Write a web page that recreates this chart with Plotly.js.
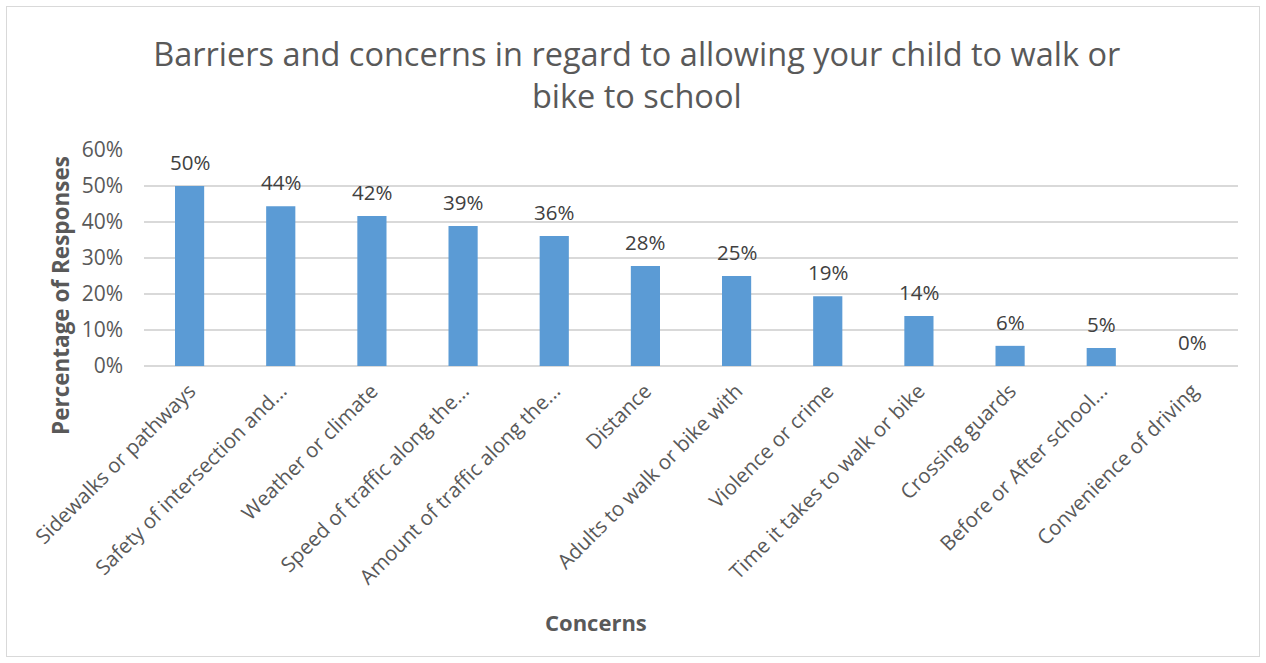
<!DOCTYPE html>
<html>
<head>
<meta charset="utf-8">
<script src="https://cdn.plot.ly/plotly-3.0.1.min.js"></script>
<style>
  html, body { margin: 0; padding: 0; background: #ffffff; }
  #wrap { position: relative; width: 1266px; height: 663px; }
  #frame { position: absolute; left: 6px; top: 6px; width: 1254px; height: 651px; border: 1px solid #d9d9d9; box-sizing: border-box; pointer-events: none; }
  #chart { position: absolute; left: 0; top: 0; width: 1266px; height: 663px; }
</style>
</head>
<body>
<div id="wrap">
  <div id="chart"></div>
  <div id="frame"></div>
</div>
<script>
const categories = [
  "Sidewalks or pathways",
  "Safety of intersection and...",
  "Weather or climate",
  "Speed of traffic along the...",
  "Amount of traffic along the...",
  "Distance",
  "Adults to walk or bike with",
  "Violence or crime",
  "Time it takes to walk or bike",
  "Crossing guards",
  "Before or After school...",
  "Convenience of driving"
];
const values = [50.0, 44.4, 41.7, 38.9, 36.1, 27.8, 25.0, 19.4, 13.9, 5.6, 5.0, 0.0];
const valueLabels = ["50%", "44%", "42%", "39%", "36%", "28%", "25%", "19%", "14%", "6%", "5%", "0%"];
const yTicks = [0, 10, 20, 30, 40, 50, 60];
const yTickLabels = ["0%", "10%", "20%", "30%", "40%", "50%", "60%"];
const chartTitle = "Barriers and concerns in regard to allowing your child to walk or<br>bike to school";
const xTitle = "Concerns";
const yTitle = "Percentage of Responses";

const FONT = "'Open Sans', 'Noto Sans', sans-serif";

const trace = {
  type: "bar",
  x: categories,
  y: values,
  marker: { color: "#5b9bd5" },
  hoverinfo: "none",
  cliponaxis: false
};

const labelAnnotations = categories.map((c, i) => ({
  x: c,
  y: values[i],
  xref: "x",
  yref: "y",
  text: valueLabels[i],
  showarrow: false,
  yanchor: "middle",
  yshift: 24,
  font: { family: FONT, size: 20.5, color: "#404040" }
}));

const layout = {
  width: 1266,
  height: 663,
  margin: { l: 144, r: 28, t: 150, b: 297 },
  paper_bgcolor: "#ffffff",
  plot_bgcolor: "#ffffff",
  showlegend: false,
  bargap: 0.68,
  title: {
    text: chartTitle,
    font: { family: FONT, size: 32.5, color: "#595959" },
    x: 0.503,
    xanchor: "center",
    y: 1 - 66 / 663,
    yanchor: "middle"
  },
  xaxis: {
    type: "category",
    tickangle: -45,
    tickfont: { family: FONT, size: 20.5, color: "#595959" },
    showline: false,
    showgrid: false,
    ticks: "",
    ticklabelstandoff: 8
  },
  yaxis: {
    range: [0, 60],
    tickvals: yTicks,
    ticktext: yTickLabels,
    tickfont: { family: FONT, size: 21, color: "#595959" },
    showgrid: true,
    gridcolor: "#d9d9d9",
    gridwidth: 1.5,
    zeroline: true,
    zerolinecolor: "#d9d9d9",
    zerolinewidth: 1.5,
    showline: false,
    ticks: "",
    ticklabelstandoff: 20
  },
  annotations: labelAnnotations.concat([
    {
      text: "<b>" + xTitle + "</b>",
      xref: "paper", yref: "paper",
      x: (596 - 144) / 1094, y: (366 - 622) / 216,
      xanchor: "center", yanchor: "middle",
      showarrow: false,
      font: { family: FONT, size: 22, color: "#595959" }
    },
    {
      text: "<b>" + yTitle + "</b>",
      xref: "paper", yref: "paper",
      x: (60 - 144) / 1094, y: (366 - 296) / 216,
      xanchor: "center", yanchor: "middle",
      textangle: -90,
      showarrow: false,
      font: { family: FONT, size: 22.5, color: "#595959" }
    }
  ])
};

Plotly.newPlot("chart", [trace], layout, { displayModeBar: false, staticPlot: true });
</script>
</body>
</html>
